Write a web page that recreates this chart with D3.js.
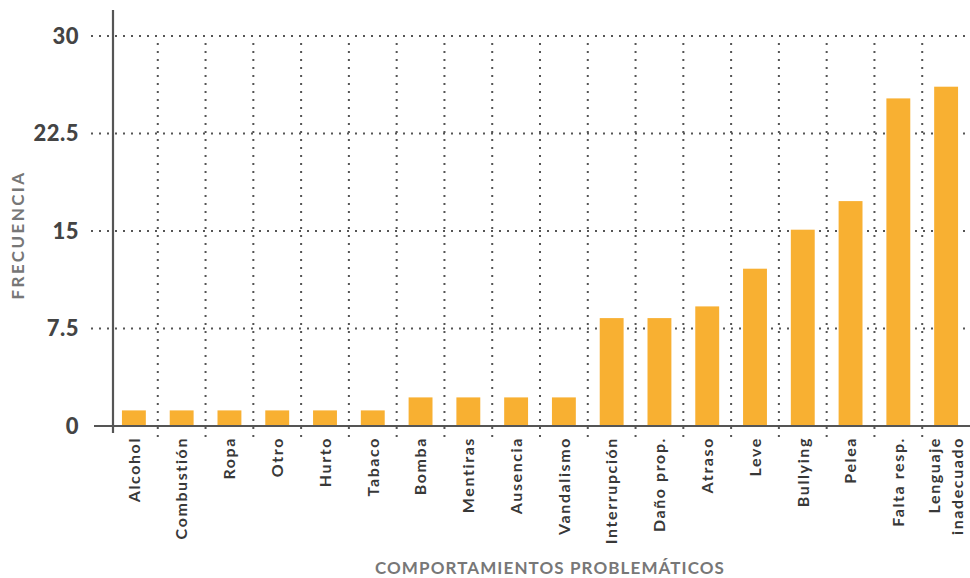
<!DOCTYPE html>
<html><head><meta charset="utf-8">
<script src="https://cdn.jsdelivr.net/npm/d3@7"></script>
<style>
html,body{margin:0;padding:0;background:#fff;}
svg{display:block;font-family:Lato,"Open Sans",sans-serif;}
</style></head>
<body>
<svg id="chart" width="970" height="578"></svg>
<script>
const categories = ["Alcohol","Combustión","Ropa","Otro","Hurto","Tabaco","Bomba","Mentiras","Ausencia","Vandalismo","Interrupción","Daño prop.","Atraso","Leve","Bullying","Pelea","Falta resp.","Lenguaje inadecuado"];
const values = [1.2,1.2,1.2,1.2,1.2,1.2,2.2,2.2,2.2,2.2,8.3,8.3,9.2,12.1,15.1,17.3,25.2,26.1];
const yTicks = [0,7.5,15,22.5,30];
const yTickLabels = ["0","7.5","15","22.5","30"];
const xTitle = "COMPORTAMIENTOS PROBLEMÁTICOS";
const yTitle = "FRECUENCIA";

const svg = d3.select("#chart");
const x = d3.scaleBand().domain(categories).range([110, 970]).paddingInner(0.5).paddingOuter(0.25);
const y = d3.scaleLinear().domain([0, 30]).range([426, 36]);

// horizontal dotted grid
svg.append("g").selectAll("line").data(yTicks.filter(d => d > 0)).join("line")
  .attr("x1", 91).attr("x2", 970)
  .attr("y1", d => y(d)).attr("y2", d => y(d))
  .attr("stroke", "#555").attr("stroke-width", 2).attr("stroke-dasharray", "2,6");

// vertical dotted grid at band boundaries
const step = x.step();
const bounds = categories.slice(1).map(c => x(c) - (step - x.bandwidth()) / 2);
svg.append("g").selectAll("line").data(bounds).join("line")
  .attr("x1", d => d).attr("x2", d => d)
  .attr("y1", 43).attr("y2", 438)
  .attr("stroke", "#555").attr("stroke-width", 2).attr("stroke-dasharray", "2,6");

// bars
svg.append("g").selectAll("rect").data(values).join("rect")
  .attr("x", (d, i) => x(categories[i]))
  .attr("width", x.bandwidth())
  .attr("y", d => y(d))
  .attr("height", d => y(0) - y(d))
  .attr("fill", "#f8b032");

// baseline and y axis line
svg.append("line").attr("x1", 94).attr("x2", 970).attr("y1", y(0)).attr("y2", y(0))
  .attr("stroke", "#555").attr("stroke-width", 2.2);
svg.append("line").attr("x1", 113).attr("x2", 113).attr("y1", 10).attr("y2", 433)
  .attr("stroke", "#555").attr("stroke-width", 2.2);

// y tick labels
svg.append("g").selectAll("text").data(yTicks).join("text")
  .attr("x", 79).attr("y", d => y(d)).attr("dy", "0.36em")
  .attr("text-anchor", "end")
  .attr("font-size", 22).attr("font-weight", 900).attr("fill", "#444")
  .attr("letter-spacing", "0.5px")
  .text((d, i) => yTickLabels[i]);

// category labels
const lab = svg.append("g").selectAll("text").data(categories).join("text")
  .attr("transform", d => `translate(${x(d) + x.bandwidth() / 2},437) rotate(-90)`)
  .attr("text-anchor", "end")
  .attr("font-size", 16).attr("font-weight", 700).attr("fill", "#383838")
  .attr("letter-spacing", "1.6px");
lab.each(function(d) {
  const parts = d === "Lenguaje inadecuado" ? ["Lenguaje", "inadecuado"] : [d];
  const t = d3.select(this);
  parts.forEach((p, k) => {
    const off = parts.length === 1 ? 0 : (k === 0 ? -11.5 : 11.5);
    t.append("tspan").attr("x", 0).attr("y", off).attr("dy", "0.36em").text(p);
  });
});

// axis titles
svg.append("text").attr("x", 550).attr("y", 574).attr("text-anchor", "middle")
  .attr("font-size", 17).attr("font-weight", 700).attr("fill", "#777")
  .attr("letter-spacing", "1.1px").text(xTitle);
svg.append("text").attr("transform", "translate(18,235) rotate(-90)")
  .attr("text-anchor", "middle").attr("dy", "0.36em")
  .attr("font-size", 17).attr("font-weight", 700).attr("fill", "#777")
  .attr("letter-spacing", "2.4px").text(yTitle);
</script>
</body></html>
